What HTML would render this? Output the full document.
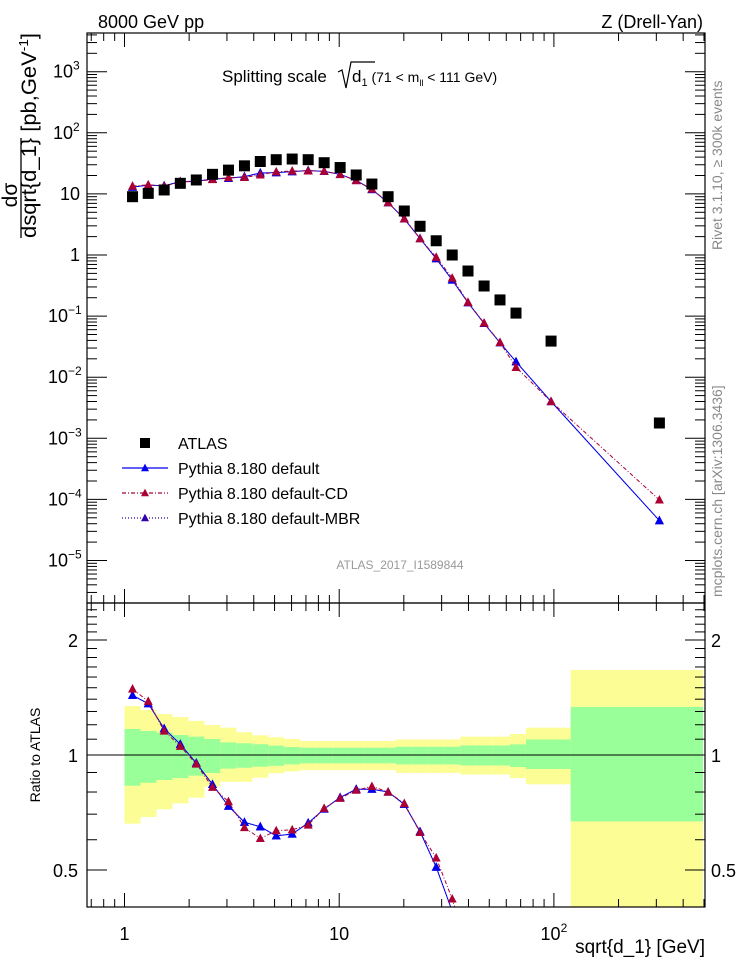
<!DOCTYPE html>
<html><head><meta charset="utf-8"><style>
html,body{margin:0;background:#fff;overflow:hidden;width:746px;height:972px;}
svg{display:block;font-family:"Liberation Sans",Arial,sans-serif;}
</style></head><body>
<svg id="chart" width="746" height="972" viewBox="0 0 746 972" xmlns="http://www.w3.org/2000/svg">
<text x="98" y="28" font-size="18">8000 GeV pp</text>
<text x="703" y="28" font-size="18" text-anchor="end">Z (Drell-Yan)</text>
<g id="bands"></g>
<g id="main"></g>
<g id="ratio"></g>
<g id="axes"></g>
<text x="222" y="82" font-size="17">Splitting scale</text>
<path d="M338 72 L342 70 L346 88 L351 62 L375 62" fill="none" stroke="#000" stroke-width="1.2"/>
<text x="352" y="82" font-size="17">d<tspan font-size="11" dy="4">1</tspan><tspan dy="-4" font-size="14"> (71 &lt; m</tspan><tspan font-size="9" dy="4">ll</tspan><tspan dy="-4" font-size="14"> &lt; 111 GeV)</tspan></text>
<text x="400" y="569" font-size="12" fill="#999" text-anchor="middle">ATLAS_2017_I1589844</text>
<text transform="translate(722,250) rotate(-90)" font-size="14" fill="#888">Rivet 3.1.10, ≥ 300k events</text>
<text transform="translate(722,597) rotate(-90)" font-size="14" fill="#888">mcplots.cern.ch [arXiv:1306.3436]</text>
<g>
<text transform="translate(17,195) rotate(-90)" font-size="21" text-anchor="middle">dσ</text>
<line x1="21" y1="138" x2="21" y2="238" stroke="#000" stroke-width="1.3"/>
<text transform="translate(36,238) rotate(-90)" font-size="21" textLength="205" lengthAdjust="spacingAndGlyphs">dsqrt{d_1} [pb,GeV<tspan font-size="13" dy="-8">-1</tspan><tspan dy="8">]</tspan></text>
</g>
<text transform="translate(40,755) rotate(-90)" font-size="14" text-anchor="middle">Ratio to ATLAS</text>
<text x="705" y="953" font-size="19" text-anchor="end">sqrt{d_1} [GeV]</text>
<g id="legend"></g>
</svg>
<script>
const xCenters=[1.09,1.29,1.53,1.82,2.16,2.57,3.05,3.62,4.29,5.09,6.04,7.17,8.51,10.1,12.0,14.2,16.9,20.1,23.8,28.3,33.6,39.8,47.3,56.1,66.6,97,310];
const binEdges=[1.0,1.187,1.409,1.672,1.985,2.356,2.796,3.319,3.94,4.677,5.55,6.59,7.82,9.28,11.0,13.1,15.5,18.4,21.9,26.0,30.8,36.6,43.4,51.6,62.5,74.1,119.7,495];
const atlas=[9.0,10.2,11.6,14.9,16.9,20.9,24.5,28.8,33.9,36.3,37.2,36.3,32.4,27,20.4,14.5,9.0,5.25,2.95,1.71,1.0,0.547,0.311,0.184,0.112,0.039,0.00178];
const pyDefault=[12.9,13.9,13.6,15.9,16.1,17.5,18.0,19.2,22.0,22.3,23.1,24.1,23.4,20.9,16.6,11.8,7.2,3.9,1.86,0.87,0.39,0.166,0.076,0.0367,0.0179,0.0040,4.5e-5];
const pyCD=[13.4,14.1,13.4,15.7,16.0,17.2,18.5,18.6,20.5,23.0,23.7,23.8,23.5,20.8,16.5,12.0,7.2,3.92,1.85,0.92,0.42,0.168,0.077,0.037,0.0145,0.0040,9.8e-5];
const pyMBR=[12.9,13.9,13.6,15.9,16.1,17.5,18.0,19.2,22.0,22.3,23.1,24.1,23.4,20.9,16.6,11.8,7.2,3.9,1.86,0.87,0.39,0.166,0.076,0.0367,0.0179,0.0040,4.5e-5];
const bandYellowHi=[1.343,1.311,1.28,1.257,1.228,1.198,1.179,1.147,1.126,1.113,1.101,1.088,1.088,1.088,1.088,1.088,1.088,1.098,1.098,1.098,1.098,1.117,1.117,1.117,1.135,1.179,1.67];
const bandYellowLo=[0.661,0.688,0.721,0.747,0.773,0.826,0.851,0.851,0.872,0.896,0.906,0.913,0.913,0.913,0.913,0.913,0.913,0.898,0.898,0.898,0.898,0.889,0.889,0.889,0.87,0.838,0.3];
const bandGreenHi=[1.17,1.156,1.144,1.128,1.117,1.101,1.079,1.073,1.067,1.058,1.049,1.045,1.045,1.045,1.045,1.045,1.045,1.051,1.051,1.051,1.051,1.059,1.059,1.059,1.066,1.098,1.336];
const bandGreenLo=[0.831,0.846,0.86,0.87,0.883,0.897,0.921,0.926,0.932,0.937,0.945,0.951,0.951,0.951,0.951,0.951,0.951,0.945,0.945,0.945,0.945,0.939,0.939,0.939,0.93,0.919,0.67];
const mainTicks=[["10","3"],["10","2"],["10",""],["1",""],["10","−1"],["10","−2"],["10","−3"],["10","−4"],["10","−5"]];
const mainTickVals=[1e3,1e2,10,1,0.1,0.01,1e-3,1e-4,1e-5];
const ratioTickVals=[2,1,0.5];
const ratioTickLabels=["2","1","0.5"];
const xTickVals=[1,10,100];

const NS="http://www.w3.org/2000/svg";
const L=87,R=705,T=33,M=603,B=907;
const X=v=>124.5+214.7*Math.log10(v);
const Y=v=>255-61.1*Math.log10(v);
const RY=r=>755-382*Math.log10(r);
function mk(tag,attrs,parent){const e=document.createElementNS(NS,tag);for(const k in attrs)e.setAttribute(k,attrs[k]);parent.appendChild(e);return e;}
const gB=document.getElementById('bands'),gM=document.getElementById('main'),gR=document.getElementById('ratio'),gA=document.getElementById('axes'),gL=document.getElementById('legend');
for(let i=0;i<xCenters.length;i++){
  const x1=X(binEdges[i]),x2=Math.min(X(binEdges[i+1]),R-2);
  const yh=Math.max(RY(bandYellowHi[i]),M),yl=Math.min(RY(bandYellowLo[i]),B);
  let r=mk('rect',{x:x1,y:yh,width:x2-x1,height:yl-yh,fill:'#fdfd96'},gB);
  
  
  const gh=RY(bandGreenHi[i]),gl=RY(bandGreenLo[i]);
  r=mk('rect',{x:x1,y:gh,width:x2-x1,height:gl-gh,fill:'#99ff99'},gB);
  
  
}
let ln=mk('line',{x1:L,y1:RY(1),x2:R,y2:RY(1),stroke:'#000','stroke-width':1},gR);


function tri(g,x,y,c,s){return mk('path',{d:`M${x-s} ${y+s*0.8} L${x+s} ${y+s*0.8} L${x} ${y-s*1.1} Z`,fill:c},g);}
const defs=mk('defs',{},document.getElementById('chart'));
const c1=mk('clipPath',{id:'clipR'},defs);mk('rect',{x:L,y:M,width:R-L,height:B-M},c1);
const c2=mk('clipPath',{id:'clipM'},defs);mk('rect',{x:L,y:T,width:R-L,height:M-T},c2);
function series(vals,color,dash,name,g,yf,ymin,ymax){
  const pts=[];
  for(let i=0;i<vals.length;i++){pts.push([X(xCenters[i]),yf(vals[i])]);}
  const cp=g===gR?'url(#clipR)':'url(#clipM)';
  const p=mk('polyline',{points:pts.map(p=>p.join(',')).join(' '),fill:'none',stroke:color,'stroke-width':1,'stroke-dasharray':dash,'clip-path':cp},g);
  
  
  pts.forEach(pt=>{if(pt[1]<ymin||pt[1]>ymax)return;const t=tri(g,pt[0],pt[1],color,4.5);
    
    });
}
series(pyMBR,'#3300aa','1,2','pythia-mbr',gM,Y,T,M);
series(pyDefault,'#0000ee','','pythia-default',gM,Y,T,M);
series(pyCD,'#aa0033','4,2,1,2','pythia-cd',gM,Y,T,M);
for(let i=0;i<atlas.length;i++){const s=mk('rect',{x:X(xCenters[i])-5.5,y:Y(atlas[i])-5.5,width:11,height:11,fill:'#000'},gM);
  
  }
const rDef=pyDefault.map((v,i)=>v/atlas[i]),rCD=pyCD.map((v,i)=>v/atlas[i]),rMBR=pyMBR.map((v,i)=>v/atlas[i]);
series(rMBR,'#3300aa','1,2','ratio-mbr',gR,RY,M+3,B-3);
series(rDef,'#0000ee','','ratio-default',gR,RY,M+3,B-3);
series(rCD,'#aa0033','4,2,1,2','ratio-cd',gR,RY,M+3,B-3);
[[T,M],[M,B]].forEach(([a,b])=>{const f=mk('rect',{x:L,y:a,width:R-L,height:b-a,fill:'none',stroke:'#000','stroke-width':1.2},gA);
  
  });
for(let d=-1;d<=2;d++)for(let k=1;k<10;k++){const v=k*Math.pow(10,d);const x=X(v);if(x<L||x>R)continue;const len=k==1?14:8;
  [[T,1],[M,-1],[M,1],[B,-1]].forEach(([y,s])=>mk('line',{x1:x,y1:y,x2:x,y2:y+s*len,stroke:'#000','stroke-width':1},gA));}
xTickVals.forEach((v,i)=>{const t=mk('text',{x:X(v),y:940,'font-size':18,'text-anchor':'middle'},gA);
  
  
  if(v<100)t.textContent=String(v);else{t.textContent='10';mk('tspan',{dy:-8,'font-size':12},t).textContent='2';}});
for(let d=-6;d<=3;d++)for(let k=1;k<10;k++){const v=k*Math.pow(10,d);const y=Y(v);if(y<T||y>M)continue;const len=k==1?20:10;
  mk('line',{x1:L,y1:y,x2:L+len,y2:y,stroke:'#000','stroke-width':1},gA);mk('line',{x1:R,y1:y,x2:R-len,y2:y,stroke:'#000','stroke-width':1},gA);}
mainTickVals.forEach((v,i)=>{const t=mk('text',{x:62,y:Y(v)+6,'font-size':18,'text-anchor':i==3||i==2?'end':'start'},gA);
  
  
  if(i==2||i==3){t.setAttribute('x',80);t.textContent=mainTicks[i][0];}
  else{t.setAttribute('x',i<2?53:48);t.textContent=mainTicks[i][0];mk('tspan',{dy:-8,'font-size':12},t).textContent=mainTicks[i][1];}});
[0.4,0.5,0.6,0.7,0.8,0.9,1,1.1,1.2,1.3,1.4,1.5,1.6,1.7,1.8,1.9,2,2.1,2.2,2.3,2.4].forEach(v=>{const y=RY(v);const len=(v==0.5||v==1||v==2)?20:10;
  mk('line',{x1:L,y1:y,x2:L+len,y2:y,stroke:'#000','stroke-width':1},gA);mk('line',{x1:R,y1:y,x2:R-len,y2:y,stroke:'#000','stroke-width':1},gA);});
ratioTickVals.forEach((v,i)=>{[[78,'end'],[711,'start']].forEach(([x,a])=>{const t=mk('text',{x:x,y:RY(v)+7,'font-size':18,'text-anchor':a},gA);
  
  
  t.textContent=ratioTickLabels[i];});});
const leg=[['ATLAS',null,null],['Pythia 8.180 default','#0000ee',''],['Pythia 8.180 default-CD','#aa0033','4,2,1,2'],['Pythia 8.180 default-MBR','#3300aa','1,2']];
leg.forEach((e,i)=>{const y=443+i*25;const g=mk('g',{},gL);
  
  
  if(!e[1])mk('rect',{x:140,y:y-5,width:10,height:10,fill:'#000'},g);
  else{mk('line',{x1:122,y1:y,x2:168,y2:y,stroke:e[1],'stroke-width':1.2,'stroke-dasharray':e[2]},g);tri(g,145,y,e[1],4);}
  mk('text',{x:178,y:y+6,'font-size':16},g).textContent=e[0];});
</script>
</body></html>
